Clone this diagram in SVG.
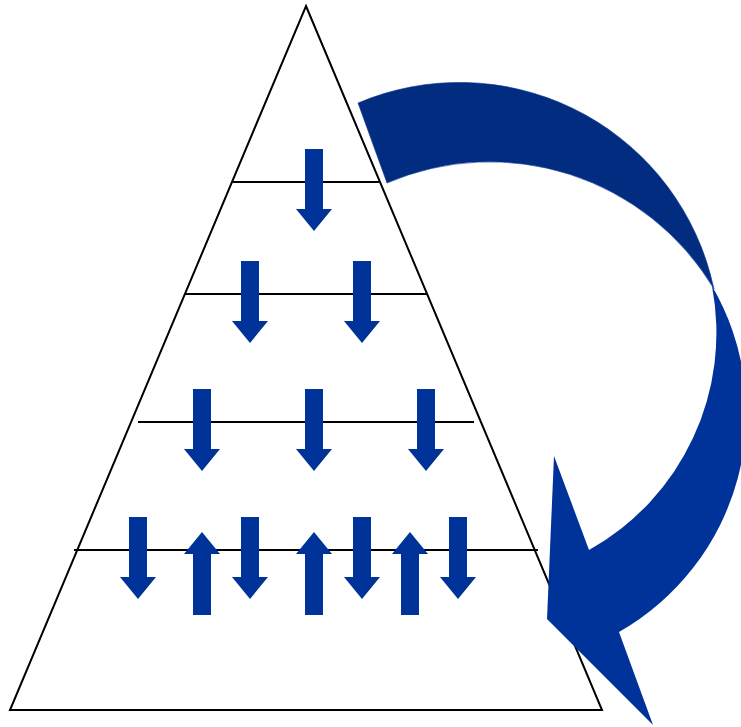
<svg xmlns="http://www.w3.org/2000/svg" xmlns:xlink="http://www.w3.org/1999/xlink" width="741" height="727" viewBox="0 0 741 727">
  <style>
    .line { stroke: #000; stroke-width: 2; fill: none; }
    .arr { fill: #003399; }
  </style>
  <defs>
    <path id="down" d="M-9,0 H9 V60 H18 L0,82 L-18,60 H-9 Z"/>
    <path id="up" d="M0,0 L18,22 H9 V83 H-9 V22 H-18 Z"/>
  </defs>
  <rect width="741" height="727" fill="#fff"/>
  <g id="pyramid">
    <polygon class="line" points="306,6 602,710 10,710"/>
    <line class="line" x1="233" y1="182" x2="379" y2="182"/>
    <line class="line" x1="185" y1="294" x2="427" y2="294"/>
    <line class="line" x1="138" y1="422" x2="474" y2="422"/>
    <line class="line" x1="74" y1="550" x2="538" y2="550"/>
  </g>
  <g id="arrows" class="arr">
    <use href="#down" x="314" y="149"/>
    <use href="#down" x="250" y="261"/>
    <use href="#down" x="362" y="261"/>
    <use href="#down" x="202" y="389"/>
    <use href="#down" x="314" y="389"/>
    <use href="#down" x="426" y="389"/>
    <use href="#down" x="138" y="517"/>
    <use href="#down" x="250" y="517"/>
    <use href="#down" x="362" y="517"/>
    <use href="#down" x="458" y="517"/>
    <use href="#up" x="202" y="532"/>
    <use href="#up" x="314" y="532"/>
    <use href="#up" x="410" y="532"/>
  </g>
  <g id="curved-arrow">
    <path fill="#022C7F" stroke="#0a3596" stroke-width="0.6" d="M358,103 A260,260 0 0 1 710,273 L714,289 A261,261 0 0 0 387,183 Z"/>
    <path fill="#003399" d="M712,286 A249,249 0 0 1 589,550 L554,456 L547,619 L653,725 L619,632 A252,252 0 0 0 712,286 Z"/>
  </g>
</svg>
